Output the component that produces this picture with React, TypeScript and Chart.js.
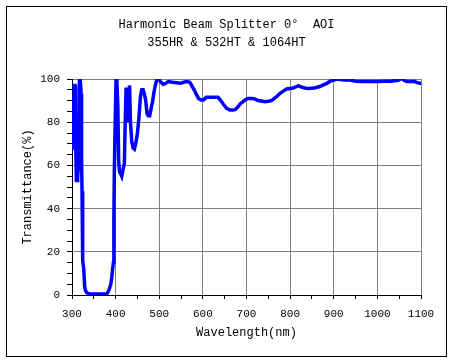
import React, { useEffect, useRef } from "react";
import { Chart, registerables } from "chart.js";

Chart.register(...registerables);

const titleLines = ["Harmonic Beam Splitter 0°  AOI", "355HR & 532HT & 1064HT"];
const xTitle = "Wavelength(nm)";
const yTitle = "Transmittance(%)";

const wavelength = [
  300, 301, 303, 305, 307, 308, 310, 312, 313, 315, 317, 319, 321, 322, 323, 324, 325, 327, 329, 331, 334,
  340, 350, 360, 370, 380, 384, 386, 389, 391, 393, 395, 396, 397, 399, 401, 403, 405, 407, 409, 412, 414,
  417, 420, 422, 424, 426, 428, 430, 432, 434, 437, 440, 443, 447, 450, 453, 457, 460, 463, 466, 469, 472,
  475, 478, 482, 485, 488, 491, 494, 498, 502, 509, 515, 521, 530, 540, 548, 556, 563, 570, 574, 580, 586,
  590, 596, 601, 608, 616, 625, 635, 641, 647, 654, 662, 668, 674, 680, 685, 692, 698, 704, 712, 719, 726,
  734, 742, 750, 757, 764, 770, 777, 785, 792, 800, 807, 813, 819, 826, 834, 841, 849, 856, 862, 868, 876,
  884, 892, 900, 907, 915, 925, 937, 950, 968, 985, 1000, 1014, 1030, 1045, 1050, 1056, 1062, 1067, 1075,
  1085, 1092, 1098, 1100,
];

const transmittance = [
  68, 90, 78, 97, 97, 75, 53, 53, 55, 60, 99.5, 99.5, 93, 62, 48, 35, 16, 12, 4, 2, 1,
  0.5, 0.5, 0.5, 0.5, 0.5, 2, 3, 5, 8, 12, 15, 35, 57, 80, 100, 98, 88, 62, 57, 56, 55,
  58, 61, 80, 96, 90, 80, 92, 97, 80, 71, 68, 67.5, 71, 75, 81, 92, 95, 95, 93, 90, 84,
  83, 83, 87, 90, 94, 97, 99.5, 100, 99, 97.5, 98, 98.8, 98.5, 98.3, 98, 98.5, 98.8, 98.5, 97.2, 95, 92.5,
  91, 90.3, 90.3, 91.5, 91.5, 91.5, 91.5, 90, 88.3, 86.5, 85.6, 85.6, 85.8, 87, 88.3, 89.5, 90.5, 91, 91, 90.8, 90,
  89.8, 89.5, 89.7, 90, 91, 92, 93.4, 94.5, 95.4, 95.6, 95.8, 96.3, 96.9, 96.3, 95.8, 95.6, 95.7, 95.8, 96.2, 96.5, 97.3,
  98, 99, 99.5, 100, 99.8, 99.5, 99.5, 99, 98.8, 98.8, 98.9, 99, 99, 99.3, 99.6, 100.3, 99.3, 98.8, 98.8,
  98.8, 98.3, 98, 98,
];

const FONT = "'Liberation Mono', 'DejaVu Sans Mono', monospace";

const framePlugin = {
  id: "frameAndTitle",
  beforeDraw(chart: any) {
    const ctx = chart.ctx;
    ctx.save();
    ctx.fillStyle = "#ffffff";
    ctx.fillRect(0, 0, chart.width, chart.height);
    ctx.restore();
  },
  afterDraw(chart: any) {
    const ctx = chart.ctx;
    ctx.save();
    ctx.strokeStyle = "#000000";
    ctx.lineWidth = 1;
    ctx.strokeRect(6.5, 6.5, 440, 350);
    ctx.fillStyle = "#000000";
    ctx.font = `12px ${FONT}`;
    ctx.textAlign = "center";
    ctx.textBaseline = "middle";
    ctx.fillText(titleLines[0], 226.5, 25);
    ctx.fillText(titleLines[1], 226.5, 43);
    ctx.restore();
  },
};

export default function App() {
  const canvasRef = useRef<HTMLCanvasElement | null>(null);

  useEffect(() => {
    if (!canvasRef.current) return;
    const points = wavelength.map((w, i) => ({ x: w, y: transmittance[i] }));
    const chart = new Chart(canvasRef.current, {
      type: "line",
      data: {
        datasets: [
          {
            data: points,
            borderColor: "#0000ff",
            borderWidth: 3.5,
            pointRadius: 0,
            tension: 0,
            fill: false,
          },
        ],
      },
      options: {
        animation: false,
        responsive: false,
        devicePixelRatio: 1,
        layout: { padding: { top: 79, right: 32, bottom: 0, left: 0 } },
        plugins: { legend: { display: false }, tooltip: { enabled: false }, title: { display: false } },
        scales: {
          x: {
            type: "linear",
            min: 300,
            max: 1100,
            afterFit: (s: any) => {
              s.height = 67;
            },
            ticks: {
              stepSize: 50,
              autoSkip: false,
              maxRotation: 0,
              padding: 8,
              color: "#000",
              font: { family: FONT, size: 11 },
              callback: (v: any) => (Number(v) % 100 === 0 ? String(v) : ""),
            },
            grid: {
              color: (c: any) => (c.tick && c.tick.value % 100 === 0 ? "#808080" : "rgba(0,0,0,0)"),
              tickColor: "#000",
              tickLength: 4,
              lineWidth: 1,
            },
            border: { color: "#000", width: 1 },
            title: {
              display: true,
              text: xTitle,
              color: "#000",
              font: { family: FONT, size: 12 },
              padding: { top: 0, bottom: 22 },
            },
          },
          y: {
            min: 0,
            max: 100,
            afterFit: (s: any) => {
              s.width = 72;
            },
            ticks: {
              stepSize: 5,
              autoSkip: false,
              padding: 7,
              color: "#000",
              font: { family: FONT, size: 11 },
              callback: (v: any) => (Number(v) % 20 === 0 ? String(v) : ""),
            },
            grid: {
              color: (c: any) => (c.tick && c.tick.value % 20 === 0 ? "#808080" : "rgba(0,0,0,0)"),
              tickColor: "#000",
              tickLength: 5,
              lineWidth: 1,
            },
            border: { color: "#000", width: 1 },
            title: {
              display: true,
              text: yTitle,
              color: "#000",
              font: { family: FONT, size: 12 },
              padding: { top: 21, bottom: 0 },
            },
          },
        },
      },
      plugins: [framePlugin],
    });
    return () => chart.destroy();
  }, []);

  return (
    <div style={{ position: "absolute", left: 0, top: 0, width: 453, height: 362 }}>
      <canvas ref={canvasRef} width={453} height={362} style={{ width: 453, height: 362, display: "block" }} />
    </div>
  );
}
